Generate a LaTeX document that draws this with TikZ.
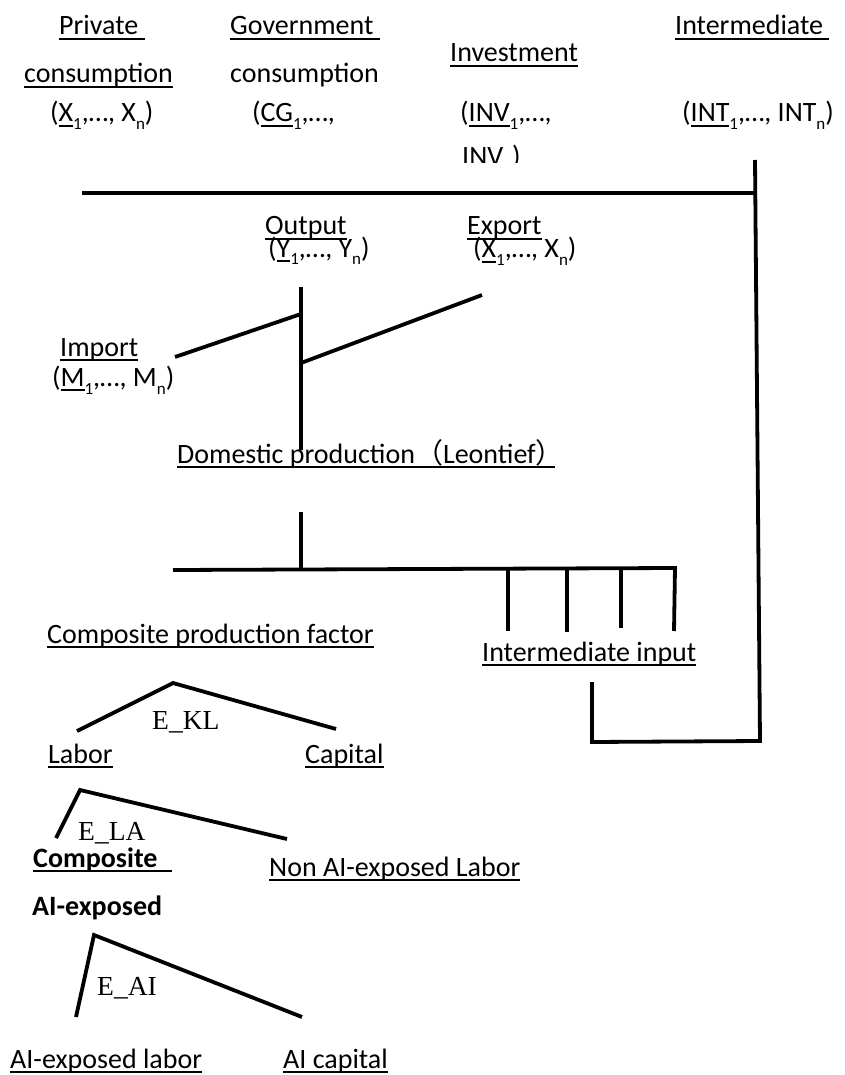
\documentclass[tikz,border=0pt]{standalone}
\usepackage{fontspec}
\setmainfont{Carlito}
\newfontfamily\tnr{Liberation Serif}
\newfontfamily\cjk{Noto Sans CJK SC}
\newsavebox{\ulbox}
\newcommand{\uline}[1]{\sbox\ulbox{#1}\rlap{\rule[-5pt]{\wd\ulbox}{1.8pt}}\usebox\ulbox}
\newcommand{\lo}[1]{\raisebox{-8pt}{\fontsize{17}{17}\selectfont #1}}
\begin{document}
\begin{tikzpicture}[x=1pt,y=-1pt,
    lbl/.style={anchor=base west,inner sep=0pt,font=\fontsize{28}{34}\selectfont},
    ces/.style={anchor=base west,inner sep=0pt,font=\tnr\fontsize{27.5}{33}\selectfont},
    bar/.style={line width=3.8pt,line join=miter}]
      \useasboundingbox (0,0) rectangle (845,1075);
      \def\mx{301};
      \def\rx{757};
      % final demand
      \node[lbl] (pc1) at (59,35) {\uline{Private~}};
      \node[lbl] (pc2) at (24,83) {\uline{consumption}};
      \node[lbl] (pc3) at (50,122) {(\uline{X}\lo{1},…, X\lo{n})};
      \node[lbl] (gc1) at (230,35) {\uline{Government~}};
      \node[lbl] (gc2) at (230,83) {consumption};
      \node[lbl] (gc3) at (252,122) {(\uline{CG}\lo{1},…,};
      \node[lbl] (iv1) at (450,62) {\uline{Investment}};
      \node[lbl] (iv2) at (460,122) {(\uline{INV}\lo{1},…,};
      \begin{scope}
        \clip (440,140) rectangle (600,163);
        \node[lbl] (iv3) at (462,166) {INV\lo{n})};
      \end{scope}
      \node[lbl] (it1) at (675,35) {\uline{Intermediate~}};
      \node[lbl] (it2) at (682,122) {(\uline{INT}\lo{1},…, INT\lo{n})};
      \coordinate (dl) at (82,193);
      \coordinate (dr) at (\rx-2,193);
      \coordinate (rt) at (\rx-2,160);
      \coordinate (rb) at (\rx+3,741);
      \coordinate (lb) at (592,742);
      \coordinate (lt) at (592,682);
      \draw[bar] (dl) -- (dr);
      \draw[bar] (rt) -- (rb) -- (lb) -- (lt);
      % output, export, import
      \node[lbl] (out1) at (265,235) {\uline{Output}};
      \node[lbl] (out2) at (268,257) {(\uline{Y}\lo{1},…, Y\lo{n})};
      \node[lbl] (ex1) at (467,235) {\uline{Export}};
      \node[lbl] (ex2) at (473,258) {(\uline{X}\lo{1},…, X\lo{n})};
      \node[lbl] (im1) at (60,356) {\uline{Import}};
      \node[lbl] (im2) at (52,386) {(\uline{M}\lo{1},…, M\lo{n})};
      \coordinate (ot) at (\mx,287);
      \coordinate (ob) at (\mx,450);
      \coordinate (imp) at (175,357);
      \coordinate (exp) at (482,295);
      \draw[bar] (ot) -- (ob);
      \draw[bar] (imp) -- (\mx,314);
      \draw[bar] (\mx,363) -- (exp);
      % domestic production
      \node[lbl] (dom) at (177,463) {\uline{Domestic production{\cjk （}Leontief{\cjk ）}\hspace{-9pt}}};
      \coordinate (st) at (\mx,512);
      \coordinate (hl) at (173,570);
      \coordinate (hr) at (675,568);
      \draw[bar] (st) -- (\mx,570);
      \draw[bar] (hl) -- (hr) -- (674,631);
      \draw[bar] (508,569) -- (508,631);
      \draw[bar] (567,569) -- (567,632);
      \draw[bar] (621,569) -- (621,628);
      \node[lbl] (ii) at (482,661) {\uline{Intermediate input}};
      \node[lbl] (cpf) at (47,643) {\uline{Composite production factor}};
      % E_KL
      \coordinate (kl) at (173,683);
      \draw[bar] (77,731) -- (kl) -- (336,729);
      \node[ces] (ekl) at (152,729) {E\_KL};
      \node[lbl] (lab) at (48,763) {\uline{Labor}};
      \node[lbl] (cap) at (305,763) {\uline{Capital}};
      % E_LA
      \coordinate (la) at (80,790);
      \draw[bar] (56,838) -- (la) -- (287,839);
      \node[ces] (ela) at (78,840) {E\_LA};
      \node[lbl] (cmp1) at (33,867) {\uline{\textbf{Composite}~\hspace{8pt}}};
      \node[lbl] (cmp2) at (32,915) {\textbf{AI-exposed}};
      \node[lbl] (nai) at (269,876) {\uline{Non AI-exposed Labor}};
      % E_AI
      \coordinate (ai) at (94,935);
      \draw[bar] (76,1017) -- (ai) -- (302,1017);
      \node[ces] (eai) at (97,995) {E\_AI};
      \node[lbl] (ail) at (10,1068) {\uline{AI-exposed labor}};
      \node[lbl] (aic) at (283,1068) {\uline{AI capital}};
\end{tikzpicture}
\end{document}
